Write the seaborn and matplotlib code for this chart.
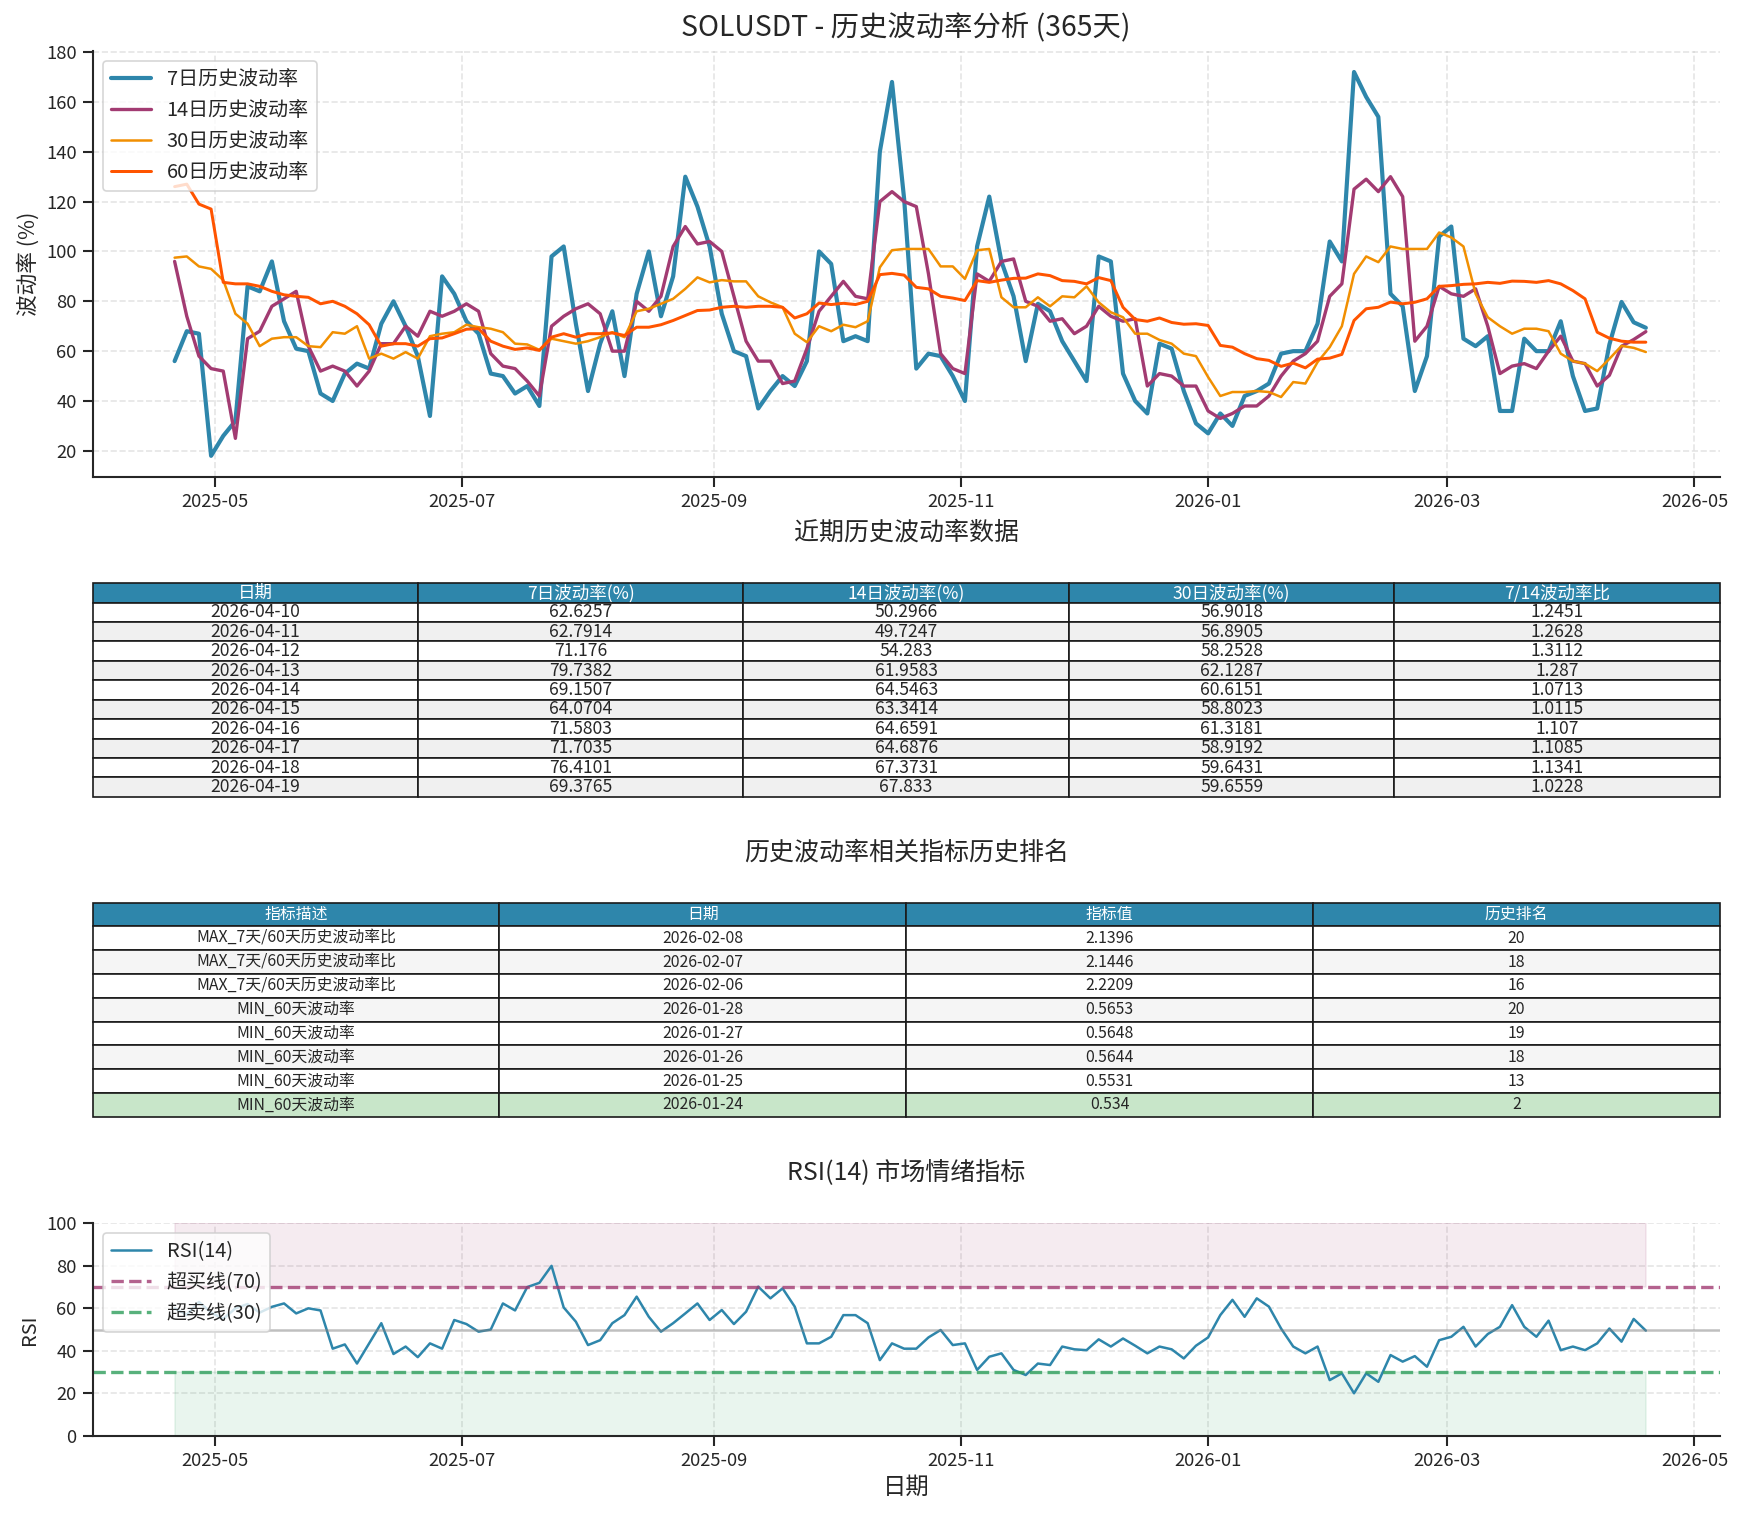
import pandas as pd
import matplotlib
matplotlib.use("Agg")
import matplotlib.pyplot as plt
import matplotlib.dates as mdates
import seaborn as sns

sns.set_theme(style="ticks")
plt.rcParams["font.family"] = ["Noto Sans CJK SC", "DejaVu Sans"]
plt.rcParams["axes.unicode_minus"] = False

# 3-day samples, ending 2026-04-19
dates = pd.date_range(end="2026-04-19", periods=122, freq="3D")

vol_7d = [
    56, 68, 67, 18, 26, 32, 86, 84, 96, 72,
    61, 60, 43, 40, 51, 55, 53, 71, 80, 70,
    58, 34, 90, 83, 72, 67, 51, 50, 43, 46,
    38, 98, 102, 71, 44, 63, 76, 50, 83, 100,
    74, 90, 130, 118, 102, 75, 60, 58, 37, 44,
    50, 46, 56, 100, 95, 64, 66, 64, 140, 168,
    121, 53, 59, 58, 50, 40, 102, 122, 96, 82,
    56, 79, 76, 64, 56, 48, 98, 96, 51, 40,
    35, 63, 61, 44, 31, 27, 35, 30, 42, 44,
    47, 59, 60, 60, 71, 104, 96, 172, 162, 154,
    83, 78, 44, 58, 106, 110, 65, 62, 66, 36,
    36, 65, 60, 60, 72, 50, 36, 37, 62.6257, 79.7382,
    71.5803, 69.3765,
]
vol_14d = [
    96, 74, 58, 53, 52, 25, 65, 68, 78, 81,
    84, 62, 52, 54, 52, 46, 52, 63, 63, 70,
    66, 76, 74, 76, 79, 76, 59, 54, 53, 48,
    42, 70, 74, 77, 79, 75, 60, 60, 80, 76,
    82, 102, 110, 103, 104, 100, 82, 64, 56, 56,
    47, 48, 61, 76, 82, 88, 82, 81, 120, 124,
    120, 118, 91, 59, 53, 51, 91, 88, 96, 97,
    80, 78, 72, 73, 67, 70, 78, 74, 72, 73,
    46, 51, 50, 46, 46, 36, 33, 35, 38, 38,
    42, 50, 56, 59, 64, 82, 87, 125, 129, 124,
    130, 122, 64, 70, 86, 83, 82, 85, 70, 51,
    54, 55, 53, 60, 66, 56, 55, 46, 50.2966, 61.9583,
    64.6591, 67.833,
]
vol_30d = [
    97.5, 98, 94, 93, 88.5, 75, 71, 62, 65, 65.6,
    65.6, 62, 61.6, 67.6, 67, 70, 57, 59, 57, 59.6,
    57, 66, 67, 67.6, 70.6, 69.6, 69, 67.6, 63, 62.7,
    60.5, 65, 64, 63, 64, 65.6, 67.6, 65.6, 76, 77,
    79, 81, 85, 89.6, 87.6, 88.5, 88, 88, 82, 79.6,
    77.6, 67, 63.6, 70, 68, 70.6, 69.6, 72, 93.6, 100.5,
    101, 101, 101, 94, 94, 89, 100.5, 101, 81.6, 77.6,
    77.6, 81.6, 78, 82, 81.6, 86, 79.6, 75.6, 73.6, 67,
    67, 64.5, 63, 59, 58, 49.6, 42, 43.6, 43.6, 44,
    43.6, 41.6, 47.6, 47, 55.6, 61.6, 70, 91, 98, 95.7,
    102, 101, 101, 101, 107.6, 105.6, 102, 83, 73.6, 70,
    67, 69, 69, 68, 59, 56, 55, 52, 56.9018, 62.1287,
    61.3181, 59.6559,
]
vol_60d = [
    126, 127, 119, 117, 87.6, 87, 87, 86, 84, 82.6,
    82, 81.6, 79, 80, 78, 75, 70.6, 62, 63, 63,
    62, 65, 65.3, 67, 68.8, 69, 64, 62, 60.7, 61.3,
    60.3, 65.6, 67, 65.6, 67, 67, 67.3, 66.3, 69.6, 69.6,
    70.6, 72.3, 74.3, 76.3, 76.5, 77.6, 78, 77.6, 78, 78,
    77.6, 73.3, 75, 79.3, 78.7, 79.2, 78.7, 80, 90.7, 91.2,
    90.5, 85.6, 85, 82, 81.3, 80.3, 88.3, 87.6, 88.5, 89.2,
    89.3, 91, 90.3, 88.3, 88, 87, 89.5, 88.3, 77.6, 72.7,
    72, 73.3, 71.5, 70.8, 71, 70.3, 62.3, 61.6, 59, 57,
    56.3, 53.9, 55.2, 53.3, 56.8, 57.2, 58.7, 72.3, 77, 77.6,
    79.7, 79, 79.6, 81, 86, 86.3, 86.8, 87, 87.6, 87.2,
    88.1, 88, 87.6, 88.3, 87, 84.3, 81, 67.6, 65.2, 64,
    63.6, 63.6,
]
rsi_14 = [
    60, 57, 63, 58, 55, 60, 62, 58, 60.7, 62.3,
    57.6, 60, 59, 41, 43, 34, 43.5, 53, 38.5, 42,
    37, 43.5, 41, 54.5, 52.6, 49, 50, 62.3, 59, 70,
    72, 80, 60.4, 53.7, 42.7, 45, 53, 56.8, 65.5, 56,
    49, 53, 57.6, 62.3, 54.5, 59.2, 52.6, 58.4, 70.2, 64.7,
    69.4, 60.8, 43.5, 43.5, 46.6, 56.8, 56.8, 53, 35.6, 43.5,
    41, 41, 46.3, 49.8, 42.7, 43.5, 31, 37.2, 38.8, 31,
    28.6, 34, 33.3, 42, 40.7, 40.3, 45.4, 42, 45.8, 42.4,
    38.8, 42, 40.7, 36.4, 42.4, 46.3, 56.8, 64, 56, 64.7,
    60.8, 50.5, 42, 38.8, 42, 26.2, 29.4, 20, 29.4, 25.4,
    38, 34.9, 37.5, 32.5, 45, 46.6, 51.3, 42, 47.9, 51.3,
    61.5, 51.3, 46.6, 54.2, 40.3, 42, 40.3, 43.5, 50.5, 44.3,
    55, 49.5,
]

df = pd.DataFrame({"date": dates, "v7": vol_7d, "v14": vol_14d,
                   "v30": vol_30d, "v60": vol_60d, "rsi": rsi_14})

# recent table
recent_dates = ["2026-04-10", "2026-04-11", "2026-04-12", "2026-04-13", "2026-04-14",
                "2026-04-15", "2026-04-16", "2026-04-17", "2026-04-18", "2026-04-19"]
recent_7d = [62.6257, 62.7914, 71.176, 79.7382, 69.1507, 64.0704, 71.5803, 71.7035, 76.4101, 69.3765]
recent_14d = [50.2966, 49.7247, 54.283, 61.9583, 64.5463, 63.3414, 64.6591, 64.6876, 67.3731, 67.833]
recent_30d = [56.9018, 56.8905, 58.2528, 62.1287, 60.6151, 58.8023, 61.3181, 58.9192, 59.6431, 59.6559]
recent_ratio = [1.2451, 1.2628, 1.3112, 1.287, 1.0713, 1.0115, 1.107, 1.1085, 1.1341, 1.0228]
recent_cols = ["日期", "7日波动率(%)", "14日波动率(%)", "30日波动率(%)", "7/14波动率比"]

# ranking table
rank_desc = ["MAX_7天/60天历史波动率比"] * 3 + ["MIN_60天波动率"] * 5
rank_dates = ["2026-02-08", "2026-02-07", "2026-02-06", "2026-01-28",
              "2026-01-27", "2026-01-26", "2026-01-25", "2026-01-24"]
rank_values = [2.1396, 2.1446, 2.2209, 0.5653, 0.5648, 0.5644, 0.5531, 0.534]
rank_pos = [20, 18, 16, 20, 19, 18, 13, 2]
rank_cols = ["指标描述", "日期", "指标值", "历史排名"]

BLUE = "#2E86AB"
PURPLE = "#A23B72"
GREEN = "#2E9E5B"
xlim = (pd.Timestamp("2025-03-31 18:00"), pd.Timestamp("2026-05-07 06:00"))

fig = plt.figure(figsize=(14.55, 12.625), dpi=120)

# ---- volatility lines
ax1 = fig.add_axes([0.053, 0.6853, 0.932, 0.2810])
sns.lineplot(data=df, x="date", y="v7", color=BLUE, linewidth=2.5, label="7日历史波动率", ax=ax1)
sns.lineplot(data=df, x="date", y="v14", color=PURPLE, linewidth=2, label="14日历史波动率", ax=ax1)
sns.lineplot(data=df, x="date", y="v30", color="#F18F01", linewidth=1.5, label="30日历史波动率", ax=ax1)
sns.lineplot(data=df, x="date", y="v60", color="#FF5400", linewidth=1.8, label="60日历史波动率", ax=ax1)
ax1.set_xlim(xlim)
ax1.set_ylim(9.6, 180.4)
ax1.set_xlabel("")
ax1.set_ylabel("波动率 (%)", fontsize=13)
ax1.xaxis.set_major_locator(mdates.MonthLocator(bymonth=[1, 3, 5, 7, 9, 11]))
ax1.xaxis.set_major_formatter(mdates.DateFormatter("%Y-%m"))
ax1.grid(True, linestyle="--", alpha=0.5)
ax1.legend(loc="upper left", fontsize=12)
sns.despine(ax=ax1)
fig.text(0.519, 0.982, "SOLUSDT - 历史波动率分析 (365天)", ha="center", va="center", fontsize=17)

# ---- recent data table
ax2 = fig.add_axes([0.053, 0.4741, 0.932, 0.1409])
ax2.axis("off")
rows1 = [[d, str(a), str(b), str(c), str(r)]
         for d, a, b, c, r in zip(recent_dates, recent_7d, recent_14d, recent_30d, recent_ratio)]
t1 = ax2.table(cellText=rows1, colLabels=recent_cols, cellLoc="center", bbox=[0, 0, 1, 1])
t1.auto_set_font_size(False)
t1.set_fontsize(10.5)
for (r, c), cell in t1.get_celld().items():
    if r == 0:
        cell.set_facecolor(BLUE)
        cell.get_text().set_color("white")
    elif r % 2 == 0:
        cell.set_facecolor("#f0f0f0")
fig.text(0.519, 0.6482, "近期历史波动率数据", ha="center", va="center", fontsize=15)

# ---- ranking table
ax3 = fig.add_axes([0.053, 0.2629, 0.932, 0.1413])
ax3.axis("off")
rows2 = [[a, b, str(v), str(p)] for a, b, v, p in zip(rank_desc, rank_dates, rank_values, rank_pos)]
t2 = ax3.table(cellText=rows2, colLabels=rank_cols, cellLoc="center", bbox=[0, 0, 1, 1])
t2.auto_set_font_size(False)
t2.set_fontsize(9.5)
for (r, c), cell in t2.get_celld().items():
    if r == 0:
        cell.set_facecolor(BLUE)
        cell.get_text().set_color("white")
    elif r == len(rows2):
        cell.set_facecolor("#c8e6c9")
    elif r % 2 == 0:
        cell.set_facecolor("#f5f5f5")
fig.text(0.519, 0.437, "历史波动率相关指标历史排名", ha="center", va="center", fontsize=15)

# ---- RSI
ax4 = fig.add_axes([0.053, 0.0523, 0.932, 0.1402])
sns.lineplot(data=df, x="date", y="rsi", color=BLUE, linewidth=1.5, label="RSI(14)", ax=ax4)
ax4.axhline(70, color=PURPLE, linestyle="--", linewidth=2, alpha=0.8, label="超买线(70)")
ax4.axhline(30, color=GREEN, linestyle="--", linewidth=2, alpha=0.8, label="超卖线(30)")
ax4.axhline(50, color="gray", linewidth=1.5, alpha=0.5)
ax4.fill_between(df["date"], 70, 100, color=PURPLE, alpha=0.1)
ax4.fill_between(df["date"], 0, 30, color=GREEN, alpha=0.1)
ax4.set_xlim(xlim)
ax4.set_ylim(0, 100)
ax4.xaxis.set_major_locator(mdates.MonthLocator(bymonth=[1, 3, 5, 7, 9, 11]))
ax4.xaxis.set_major_formatter(mdates.DateFormatter("%Y-%m"))
ax4.set_xlabel("日期", fontsize=14)
ax4.set_ylabel("RSI", fontsize=12)
ax4.grid(True, linestyle="--", alpha=0.5)
ax4.legend(loc="upper left", fontsize=12)
sns.despine(ax=ax4)
fig.text(0.519, 0.2264, "RSI(14) 市场情绪指标", ha="center", va="center", fontsize=15)

fig.savefig("out.png", dpi=120)
